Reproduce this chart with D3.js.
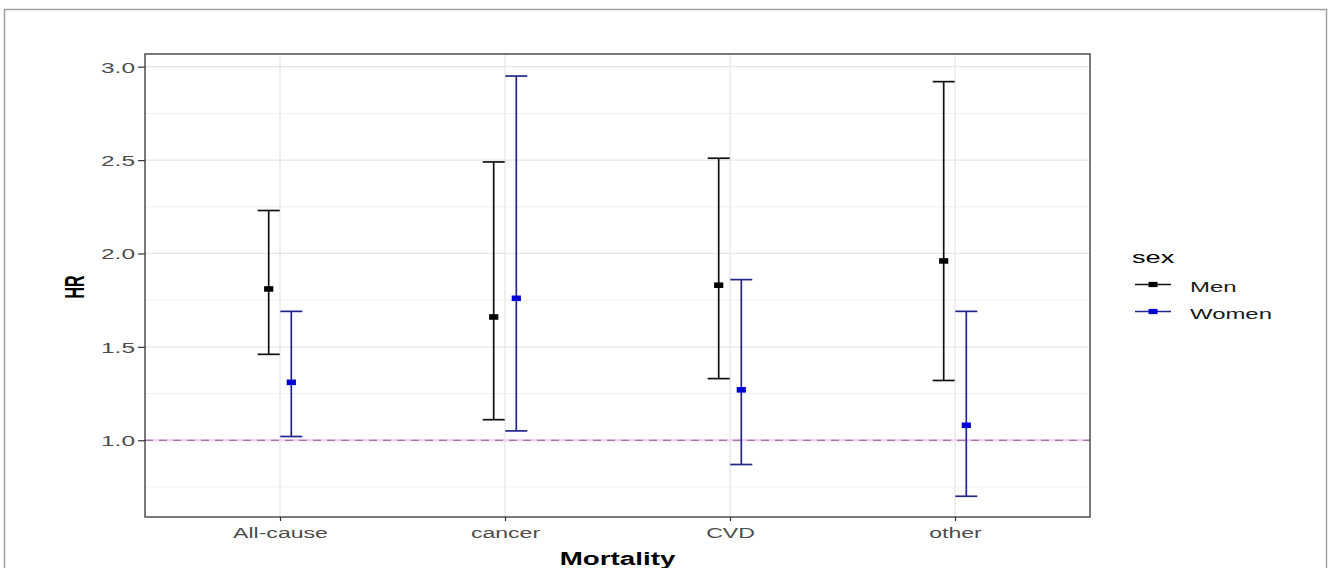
<!DOCTYPE html>
<html>
<head>
<meta charset="utf-8">
<script src="https://cdn.jsdelivr.net/npm/d3@7"></script>
<style>
  html, body { margin: 0; padding: 0; background: #fff; }
  svg { display: block; }
  text { font-family: "Liberation Sans", Arial, sans-serif; }
</style>
</head>
<body>
<svg id="chart" width="1328" height="568"></svg>
<script>
// Hazard ratios with 95% confidence intervals by cause of death and sex
const categories = ["All-cause", "cancer", "CVD", "other"];
const sexes = ["Men", "Women"];
const menHR    = [1.81, 1.66, 1.83, 1.96];
const menLow   = [1.46, 1.11, 1.33, 1.32];
const menHigh  = [2.23, 2.49, 2.51, 2.92];
const womenHR   = [1.31, 1.76, 1.27, 1.08];
const womenLow  = [1.02, 1.05, 0.87, 0.70];
const womenHigh = [1.69, 2.95, 1.86, 1.69];
const yTicks = [1.0, 1.5, 2.0, 2.5, 3.0];
const yMinor = [0.75, 1.25, 1.75, 2.25, 2.75];
const refLine = 1.0;

const rows = [];
categories.forEach((c, i) => {
  rows.push({cat: c, sex: "Men",   hr: menHR[i],   lo: menLow[i],   hi: menHigh[i]});
  rows.push({cat: c, sex: "Women", hr: womenHR[i], lo: womenLow[i], hi: womenHigh[i]});
});

const lineColor  = {Men: "#111111", Women: "#24248f"};
const pointColor = {Men: "#000000", Women: "#0000d6"};
const SX = 1.65; // horizontal text stretch

const svg = d3.select("#chart");

// outer frame
svg.append("rect")
  .attr("x", 4.5).attr("y", 9.5).attr("width", 1322).attr("height", 580)
  .attr("fill", "none").attr("stroke", "#a0a0a0").attr("stroke-width", 1.5);

const panel = {left: 145, top: 54, right: 1090, bottom: 517};

const x = d3.scalePoint().domain(categories)
  .range([panel.left, panel.right]).padding(0.6);
const dodge = d3.scalePoint().domain(sexes).range([-11.3, 11.3]);
const y = d3.scaleLinear().domain([0.589, 3.068])
  .range([panel.bottom, panel.top]);

const g = svg.append("g");

// grid
g.selectAll("line.minor").data(yMinor).join("line")
  .attr("x1", panel.left).attr("x2", panel.right)
  .attr("y1", d => y(d)).attr("y2", d => y(d))
  .attr("stroke", "#efefef").attr("stroke-width", 1);
g.selectAll("line.majory").data(yTicks).join("line")
  .attr("x1", panel.left).attr("x2", panel.right)
  .attr("y1", d => y(d)).attr("y2", d => y(d))
  .attr("stroke", "#e6e6e6").attr("stroke-width", 1.3);
g.selectAll("line.majorx").data(categories).join("line")
  .attr("x1", d => x(d)).attr("x2", d => x(d))
  .attr("y1", panel.top).attr("y2", panel.bottom)
  .attr("stroke", "#e6e6e6").attr("stroke-width", 1.3);

// reference line at HR = 1
g.append("line")
  .attr("x1", panel.left).attr("x2", panel.right)
  .attr("y1", y(refLine)).attr("y2", y(refLine))
  .attr("stroke", "#f6d4f6").attr("stroke-width", 2.5);
g.append("line")
  .attr("x1", panel.left).attr("x2", panel.right)
  .attr("y1", y(refLine)).attr("y2", y(refLine))
  .attr("stroke", "#8a5c8a").attr("stroke-width", 1.2)
  .attr("stroke-dasharray", "8,6");

// error bars
const cap = 11;
const bars = g.selectAll("g.bar").data(rows).join("g")
  .attr("transform", d => `translate(${x(d.cat) + dodge(d.sex)},0)`);
bars.append("line")
  .attr("y1", d => y(d.lo)).attr("y2", d => y(d.hi))
  .attr("stroke", d => lineColor[d.sex]).attr("stroke-width", 1.7);
bars.append("line")
  .attr("x1", -cap).attr("x2", cap)
  .attr("y1", d => y(d.hi)).attr("y2", d => y(d.hi))
  .attr("stroke", d => lineColor[d.sex]).attr("stroke-width", 1.7);
bars.append("line")
  .attr("x1", -cap).attr("x2", cap)
  .attr("y1", d => y(d.lo)).attr("y2", d => y(d.lo))
  .attr("stroke", d => lineColor[d.sex]).attr("stroke-width", 1.7);
bars.append("rect")
  .attr("x", -4.6).attr("width", 9.2)
  .attr("y", d => y(d.hr) - 2.8).attr("height", 5.6)
  .attr("fill", d => pointColor[d.sex]);

// panel border
g.append("rect")
  .attr("x", panel.left).attr("y", panel.top)
  .attr("width", panel.right - panel.left).attr("height", panel.bottom - panel.top)
  .attr("fill", "none").attr("stroke", "#333").attr("stroke-width", 1.3);

// y axis
const yAxis = svg.append("g")
  .attr("transform", `translate(${panel.left},0)`)
  .call(d3.axisLeft(y).tickValues(yTicks).tickFormat(d3.format(".1f")).tickSize(7).tickPadding(0));
yAxis.select(".domain").remove();
yAxis.selectAll(".tick line").attr("stroke", "#333").attr("stroke-width", 1.2);
yAxis.selectAll(".tick text")
  .attr("x", null).attr("dy", null)
  .attr("transform", `translate(-10,5.5) scale(1.75,1)`)
  .attr("fill", "#4d4d4d").style("font-size", "14px")
  .style("font-family", "'Liberation Sans', Arial, sans-serif");

// x axis
const xAxis = svg.append("g")
  .attr("transform", `translate(0,${panel.bottom})`)
  .call(d3.axisBottom(x).tickSize(4).tickPadding(0));
xAxis.select(".domain").remove();
xAxis.selectAll(".tick line").attr("stroke", "#333").attr("stroke-width", 1.2);
xAxis.selectAll(".tick text")
  .attr("y", null).attr("dy", null)
  .attr("transform", `translate(0,21) scale(${SX},1)`)
  .attr("fill", "#4d4d4d").style("font-size", "14px")
  .style("font-family", "'Liberation Sans', Arial, sans-serif");

// axis titles
svg.append("text")
  .attr("transform", `translate(${(panel.left + panel.right) / 2},565) scale(1.5,1)`)
  .attr("text-anchor", "middle").attr("font-weight", "bold")
  .style("font-size", "18.5px").attr("fill", "#000")
  .text("Mortality");
svg.append("text")
  .attr("transform", `translate(84,287) rotate(-90) scale(1,1.75)`)
  .attr("text-anchor", "middle").attr("font-weight", "bold")
  .style("font-size", "16px").attr("fill", "#000")
  .text("HR");

// legend
const leg = svg.append("g").attr("transform", "translate(1132,0)");
leg.append("text")
  .attr("transform", `translate(0,263) scale(${SX},1)`)
  .style("font-size", "16.5px").attr("fill", "#000")
  .text("sex");
const items = leg.selectAll("g.item").data(sexes).join("g")
  .attr("transform", (d, i) => `translate(0,${284.5 + i * 27})`);
items.append("line")
  .attr("x1", 3).attr("x2", 39)
  .attr("stroke", d => lineColor[d]).attr("stroke-width", 1.5);
items.append("rect")
  .attr("x", 16.5).attr("y", -2.6).attr("width", 9).attr("height", 5.2)
  .attr("fill", d => pointColor[d]);
items.append("text")
  .attr("transform", `translate(58,7.5) scale(${SX},1)`)
  .style("font-size", "14.5px").attr("fill", "#1a1a1a")
  .text(d => d);
</script>
</body>
</html>
